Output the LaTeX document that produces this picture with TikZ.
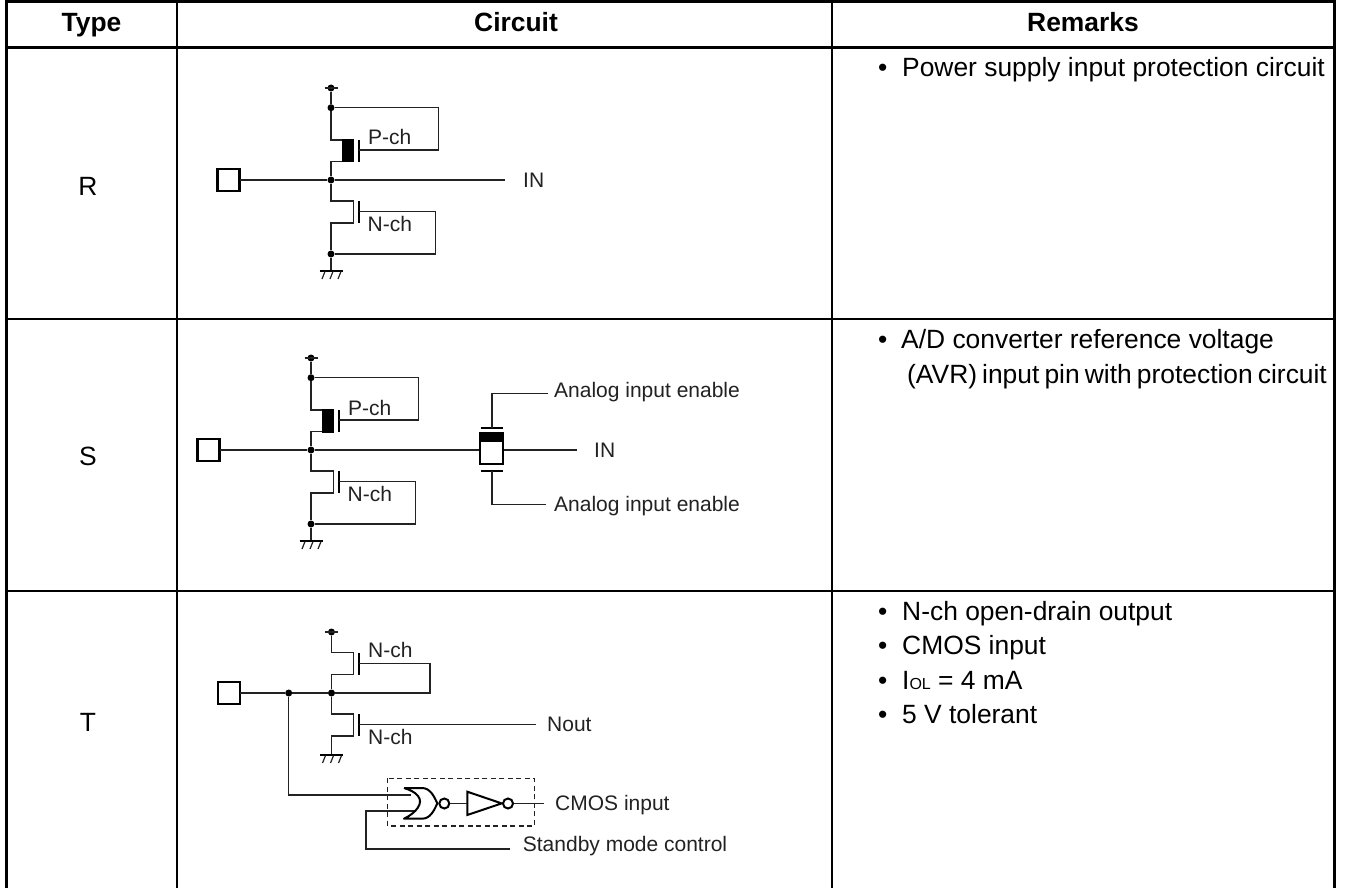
\documentclass[tikz,border=0pt]{standalone}
\usepackage{fontspec}
\setmainfont{Liberation Sans}
\usetikzlibrary{calc}
\definecolor{ink}{HTML}{222222}
\tikzset{
  x=1pt,y=-1pt,
  frameline/.style={draw=black,line width=2.7pt},
  framethin/.style={draw=black,line width=2pt},
  frametop/.style={draw=black,line width=3pt},
  wire/.style={draw=ink,line width=1.5pt},
  gatebar/.style={draw=black,line width=2pt},
  pad/.style={draw=black,line width=2.4pt,fill=white,minimum size=22pt,inner sep=0pt,outer sep=0pt},
  junction/.style={circle,fill=black,inner sep=0pt,minimum size=7pt},
  head/.style={font=\fontsize{26.4}{30}\selectfont\bfseries,inner sep=0pt,anchor=base},
  celltext/.style={font=\fontsize{26.4}{30}\selectfont,inner sep=0pt,text=black,anchor=base},
  remark/.style={font=\fontsize{26.4}{30}\selectfont,inner sep=0pt,anchor=base west,text=black},
  label/.style={font=\fontsize{21}{25}\selectfont,inner sep=0pt,anchor=base west,text=ink},
}
% supply marker: #1 = anchor coordinate
\newcommand{\supplymark}[1]{\draw[wire] ($(#1)+(-6.5,0)$) -- ($(#1)+(6.5,0)$);}
% ground symbol at #1
\newcommand{\groundmark}[1]{%
  \draw[gatebar] ($(#1)+(-11.5,0)$) -- ($(#1)+(11.5,0)$);
  \foreach \hx in {-8,0,8}{\draw[draw=ink,line width=1.2pt] ($(#1)+(\hx+2,0.5)$) -- ($(#1)+(\hx-1,8)$);}}
% protection pair, prefix #1, shift #2
\newcommand{\protpair}[2]{%
\begin{scope}[shift={(#2)}]
  \node[junction] (#1sup) at (331,88) {};
  \supplymark{#1sup}
  \node[junction] (#1top) at (331,107.7) {};
  \node[junction] (#1mid) at (331,180) {};
  \node[junction] (#1bot) at (331,254) {};
  \node[pad] (#1pad) at (228.5,180) {};
  \coordinate (#1gnd) at (331,271);
  \coordinate (#1pgate) at (359,150);
  \coordinate (#1ngate) at (359,211.7);
  \draw[wire] (#1sup) -- (#1top);
  \draw[wire] (#1top) -- (331,140) -- (344,140);
  \draw[wire] (344,161.5) -- (331,161.5) -- (#1mid);
  \fill[black] (342,139) rectangle (353.5,162.5);
  \draw[gatebar] (359,140) -- (359,162);
  \draw[wire] (#1top) -| (438.7,150) -- (#1pgate);
  \draw[wire] (#1mid) -- (331,201) -- (353.5,201) -- (353.5,223) -- (331,223) -- (#1bot);
  \draw[gatebar] (359,201) -- (359,222.5);
  \draw[wire] (#1bot) -| (435.7,211.7) -- (#1ngate);
  \draw[wire] (#1bot) -- (#1gnd);
  \groundmark{#1gnd}
  \node[label] (#1pl) at (368,145) {P-ch};
  \node[label] (#1nl) at (367.5,231) {N-ch};
\end{scope}}
\begin{document}
\begin{tikzpicture}
\useasboundingbox[fill=white] (0,0) rectangle (1345,888);
% table
\draw[frametop] (5,2) -- (1336,2);
\draw[frametop] (5,47.5) -- (1336,47.5);
\draw[frameline] (5,319) -- (1336,319);
\draw[frameline] (5,591) -- (1336,591);
\draw[frameline] (6.5,1) -- (6.5,888);
\draw[framethin] (177,1) -- (177,888);
\draw[framethin] (832,1) -- (832,888);
\draw[frameline] (1334.5,1) -- (1334.5,888);
% headers
\node[head] (h1) at (91.5,31.7) {Type};
\node[head] (h2) at (516,31.7) {Circuit};
\node[head] (h3) at (1083,31.7) {Remarks};
% type cells
\node[celltext] (tr) at (88,196) {R};
\node[celltext] (ts) at (88,465) {S};
\node[celltext] (tt) at (88,731) {T};
% circuit R
\protpair{r}{0,0}
\node[label] (rin) at (523,187.5) {IN};
\draw[wire] (rpad) -- (rmid);
\draw[wire] (rmid) -- (505,180);
% circuit S
\protpair{s}{-20,270}
\draw[wire] (spad) -- (smid);
\draw[wire] (smid) -- (479,450);
\draw[wire] (503.5,450) -- (577,450);
\node[draw=black,line width=2.2pt,fill=white,minimum width=23pt,minimum height=31pt,inner sep=0pt] (sw) at (491.3,448.5) {};
\fill[black] (479.5,433) rectangle (503.3,441.7);
\node[label] (sin) at (594,457.5) {IN};
\node[label] (sen1) at (554,397) {Analog input enable};
\node[label] (sen2) at (554,511.5) {Analog input enable};
\draw[gatebar] (480.5,428) -- (502.7,428);
\draw[gatebar] (480.5,471) -- (502.7,471);
\draw[wire] (492,428) -- (492,393.3) -- (548,393.3);
\draw[wire] (492,471) -- (492,504.3) -- (546,504.3);
% circuit T
\node[junction] (tsup) at (331.5,632) {};
\supplymark{tsup}
\node[junction] (tmid) at (331.5,693) {};
\node[junction] (tbr) at (288.7,693) {};
\node[pad] (tpad) at (229,693) {};
\coordinate (tgnd) at (331.5,755);
\draw[wire] (tsup) -- (331.5,652.7) -- (353.7,652.7) -- (353.7,674.7) -- (331.5,674.7) -- (tmid);
\draw[gatebar] (359.3,653) -- (359.3,674.5);
\draw[wire] (359.3,663.3) -| (430,693) -- (tmid);
\draw[wire] (tmid) -- (tbr);
\draw[wire] (tbr) -- (tpad);
\draw[wire] (tmid) -- (331.5,714) -- (353.7,714) -- (353.7,736) -- (331.5,736) -- (tgnd);
\draw[gatebar] (359.3,714) -- (359.3,736);
\groundmark{tgnd}
\node[label] (tn1) at (368,657.5) {N-ch};
\node[label] (tn2) at (368,744) {N-ch};
\node[label] (tout) at (547,731.5) {Nout};
\draw[wire] (359.3,724.3) -- (536,724.3);
% gates
\draw[draw=ink,line width=1.4pt,dash pattern=on 5pt off 3.5pt] (387.7,778.3) rectangle (534.3,826);
\draw[wire] (tbr) |- (411,795);
\draw[wire] (415,811) -- (366,811) |- (510,849);
\draw[draw=black,line width=2pt,line join=round,fill=white] (404,788) -- (422,788) .. controls (430,788) and (434,796) .. (437.3,803.3)
  .. controls (434,811) and (430,818.7) .. (422,818.7) -- (404,818.7)
  .. controls (416,813) and (424,803) .. (418,796) .. controls (415,792) and (410,790) .. (404,788);
\node[circle,draw=black,line width=2pt,fill=white,minimum size=10pt,inner sep=0pt] (bub1) at (444.3,803.5) {};
\draw[draw=black,line width=2pt,line join=miter] (467.3,791.7) -- (501.7,803.4) -- (467.3,815) -- cycle;
\node[circle,draw=black,line width=2pt,fill=white,minimum size=10pt,inner sep=0pt] (bub2) at (508,803.5) {};
\coordinate (cout) at (544,803.5);
\coordinate (tri) at (467.3,803.5);
\draw[wire] (bub1) -- (tri);
\draw[wire] (bub2) -- (cout);
\node[label] (cmos) at (555,810) {CMOS input};
\node[label] (stby) at (522.7,851.7) {Standby mode control};
% remarks
\node[remark] (b1) at (878,76.7) {•};
\node[remark] (m1) at (902,76.7) {Power supply input protection circuit};
\node[remark] (b2) at (878,348) {•};
\node[remark] (m2) at (901,348) {A/D converter reference voltage};
\node[remark] (m3) at (907,383) {\spaceskip=5.1pt (AVR) input pin with protection circuit};
\node[remark] (b3) at (878,620) {•};
\node[remark] (m4) at (902,620) {N-ch open-drain output};
\node[remark] (b4) at (878,654) {•};
\node[remark] (m5) at (902,654) {CMOS input};
\node[remark] (b5) at (878,689) {•};
\node[remark] (m6) at (902,689) {I{\fontsize{16}{18}\selectfont OL} = 4 mA};
\node[remark] (b6) at (878,723) {•};
\node[remark] (m7) at (902,723) {5 V tolerant};
\end{tikzpicture}
\end{document}
